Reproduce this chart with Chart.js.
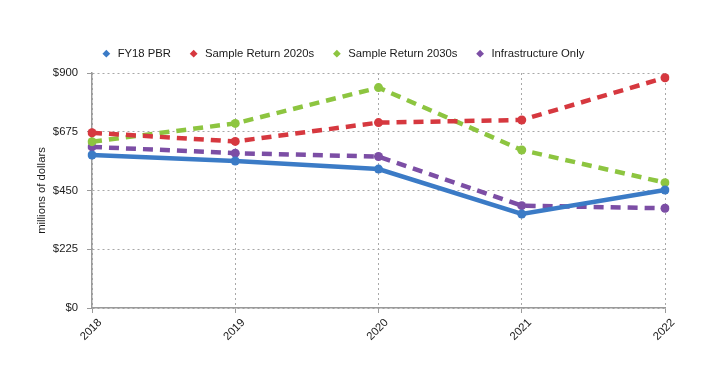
<!DOCTYPE html>
<html>
<head>
<meta charset="utf-8">
<script src="https://cdn.jsdelivr.net/npm/chart.js@4/dist/chart.umd.min.js"></script>
<style>
  html, body { margin: 0; padding: 0; background: #fff; }
  #wrap { width: 720px; height: 368px; }
</style>
</head>
<body>
<div id="wrap"><canvas id="chart" width="720" height="368"></canvas></div>
<script>
const years = ['2018', '2019', '2020', '2021', '2022'];
const fy18Pbr = [586, 563, 532, 360, 452];
const sampleReturn2020s = [671, 638, 710, 720, 882];
const sampleReturn2030s = [637, 707, 844, 605, 480];
const infrastructureOnly = [617, 593, 580, 392, 382];
const yTicks = [0, 225, 450, 675, 900];

const font = 'Liberation Sans, Arial, Helvetica, sans-serif';

function series(label, data, color, dashed) {
    return {
        label: label,
        data: data,
        borderColor: color,
        backgroundColor: color,
        borderWidth: 4.5,
        borderDash: dashed ? [10, 7] : [],
        pointRadius: 4.5,
        pointHoverRadius: 4.5,
        pointBorderWidth: 0,
        tension: 0
    };
}

// fix legend height so the plot top lines up
const legendHeight = {
    id: 'legendHeight',
    beforeInit(chart) {
        const fit = chart.legend.fit;
        chart.legend.fit = function () {
            fit.call(this);
            this.height = 42;
        };
    }
};

const ctx = document.getElementById('chart').getContext('2d');
new Chart(ctx, {
    type: 'line',
    data: {
        labels: years,
        datasets: [
            series('FY18 PBR', fy18Pbr, '#3b7bc6', false),
            series('Sample Return 2020s', sampleReturn2020s, '#d6383f', true),
            series('Sample Return 2030s', sampleReturn2030s, '#8dc540', true),
            series('Infrastructure Only', infrastructureOnly, '#7c4ea5', true)
        ]
    },
    options: {
        responsive: false,
        animation: false,
        layout: { padding: { left: 20, right: 55, top: 31, bottom: 20 } },
        plugins: {
            tooltip: { enabled: false },
            legend: {
                position: 'top',
                labels: {
                    usePointStyle: true,
                    pointStyle: 'rectRot',
                    boxWidth: 12,
                    boxHeight: 5.5,
                    padding: 17,
                    color: '#1a1a1a',
                    font: { family: font, size: 11.3 }
                }
            }
        },
        scales: {
            x: {
                offset: false,
                afterFit: s => { s.height = 40; },
                border: { display: true, color: '#9a9a9a', width: 1.5, dash: [2, 3] },
                grid: {
                    color: '#a8a8a8',
                    tickColor: '#9a9a9a',
                    tickBorderDash: [],
                    tickLength: 5
                },
                ticks: {
                    minRotation: 45,
                    maxRotation: 45,
                    padding: 3,
                    labelOffset: 8,
                    color: '#1a1a1a',
                    font: { family: font, size: 11.3 }
                }
            },
            y: {
                min: 0,
                max: 900,
                afterFit: s => { s.width = 72; },
                afterBuildTicks: s => { s.ticks = yTicks.map(v => ({ value: v })); },
                border: { display: true, color: '#9a9a9a', width: 1.5, dash: [2, 3] },
                grid: {
                    color: '#a8a8a8',
                    tickColor: '#9a9a9a',
                    tickBorderDash: [],
                    tickLength: 5
                },
                ticks: {
                    padding: 9,
                    color: '#1a1a1a',
                    font: { family: font, size: 11.3 },
                    callback: v => '$' + v
                },
                title: {
                    display: true,
                    text: 'millions of dollars',
                    color: '#1a1a1a',
                    padding: { top: 15, bottom: 0 },
                    font: { family: font, size: 11.3 }
                }
            }
        }
    },
    plugins: [legendHeight]
});
</script>
</body>
</html>
